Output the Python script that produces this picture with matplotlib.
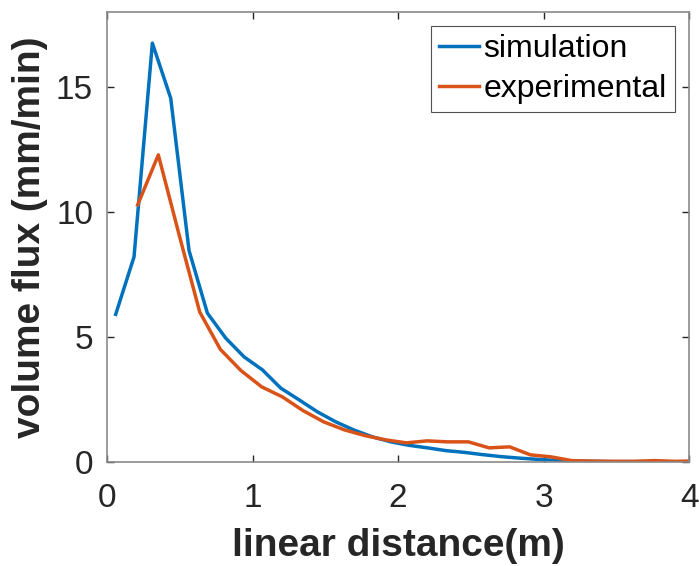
import matplotlib
matplotlib.use("Agg")
import matplotlib.pyplot as plt

plt.rcParams['font.family'] = ['Liberation Sans', 'DejaVu Sans']

# simulated flux along the channel
sim_x = [0.06, 0.186, 0.312, 0.438, 0.564, 0.69, 0.816, 0.942, 1.068, 1.194,
         1.32, 1.446, 1.572, 1.698, 1.824, 1.95, 2.076, 2.202, 2.328, 2.454,
         2.58, 2.706, 2.832, 2.958, 3.084, 3.21, 3.336, 3.462, 3.588, 3.714,
         3.84, 3.966]
sim_y = [5.9, 8.2, 16.75, 14.55, 8.45, 5.95, 4.95, 4.2, 3.68, 2.95,
         2.48, 2.0, 1.6, 1.27, 1.0, 0.8, 0.66, 0.56, 0.45, 0.38,
         0.29, 0.21, 0.15, 0.1, 0.06, 0.03, 0.02, 0.01, 0.01, 0.01,
         0.0, 0.0]

# measured flux
exp_x = [0.211, 0.353, 0.495, 0.637, 0.779, 0.921, 1.063, 1.205, 1.347, 1.489,
         1.631, 1.773, 1.915, 2.057, 2.199, 2.341, 2.483, 2.625, 2.767, 2.909,
         3.051, 3.193, 3.335, 3.477, 3.619, 3.761, 3.903, 3.99]
exp_y = [10.28, 12.28, 9.1, 6.0, 4.5, 3.65, 3.0, 2.6, 2.05, 1.6,
         1.28, 1.05, 0.88, 0.76, 0.84, 0.8, 0.8, 0.56, 0.6, 0.28,
         0.2, 0.05, 0.03, 0.02, 0.02, 0.05, 0.02, 0.03]

fig = plt.figure(figsize=(6.99, 5.66), dpi=100)
ax = fig.add_axes([0.153, 0.184, 0.833, 0.795])

ax.plot(sim_x, sim_y, color='#0072BD', lw=2.5, label='simulation')
ax.plot(exp_x, exp_y, color='#D95319', lw=2.5, label='experimental')

ax.set_xlim(0, 4)
ax.set_ylim(0, 18)
ax.set_xticks([0, 1, 2, 3, 4])
ax.set_yticks([0, 5, 10, 15])
ax.tick_params(direction='in', length=5, width=1, color='#262626',
               labelsize=24, labelcolor='#262626', top=True, right=True)
ax.tick_params(axis='x', pad=15)
ax.tick_params(axis='y', pad=10)
for s in ax.spines.values():
    s.set_color('#8a8a8a')
    s.set_linewidth(1.2)

ax.set_xlabel('linear distance(m)', fontsize=28, fontweight='bold',
              color='#262626', labelpad=10)
ax.set_ylabel('volume flux (mm/min)', fontsize=28, fontweight='bold',
              color='#262626', labelpad=6)

leg = ax.legend(loc='upper right', fontsize=23, frameon=True, fancybox=False,
                edgecolor='#262626', handlelength=1.25, handletextpad=0.15,
                borderpad=0.25, labelspacing=0.3, borderaxespad=0.45)
leg.get_frame().set_linewidth(0.8)

fig.savefig('out.png', dpi=100)
